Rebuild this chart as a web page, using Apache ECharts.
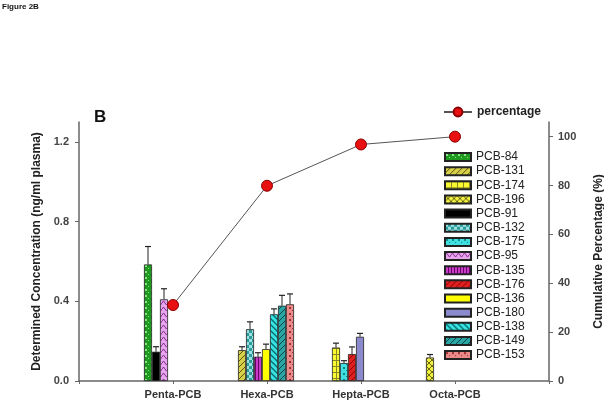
<!DOCTYPE html>
<html><head><meta charset="utf-8">
<script src="https://cdn.jsdelivr.net/npm/echarts@6/dist/echarts.min.js"></script>
<style>html,body{margin:0;padding:0;background:#fff}#c{width:604px;height:407px}</style>
</head><body><div id="c"></div>
<script>
const categories = ['Penta-PCB', 'Hexa-PCB', 'Hepta-PCB', 'Octa-PCB'];
const pcbNames = ['PCB-84','PCB-131','PCB-174','PCB-196','PCB-91','PCB-132','PCB-175','PCB-95','PCB-135','PCB-176','PCB-136','PCB-180','PCB-138','PCB-149','PCB-153'];
const pcbGroup = [0, 1, 2, 3, 0, 1, 2, 0, 1, 2, 1, 2, 1, 1, 1];
const pcbMean  = [0.585, 0.155, 0.168, 0.118, 0.147, 0.26, 0.09, 0.41, 0.122, 0.135, 0.16, 0.222, 0.335, 0.378, 0.385];
const pcbError = [0.09, 0.017, 0.022, 0.015, 0.025, 0.037, 0.012, 0.053, 0.02, 0.036, 0.025, 0.017, 0.027, 0.052, 0.052];
const cumulativePct = [31.1, 79.9, 96.8, 100];
const leftTicks = [0, 0.4, 0.8, 1.2];
const rightTicks = [0, 20, 40, 60, 80, 100];

const FONT = 'Arial, "Liberation Sans", sans-serif';

function pat(bg, fg, kind) {
  const s = 6;
  const c = document.createElement('canvas'); c.width = s; c.height = s;
  const g = c.getContext('2d');
  g.fillStyle = bg; g.fillRect(0, 0, s, s);
  g.strokeStyle = fg; g.fillStyle = fg; g.lineWidth = 1;
  if (kind === 'dots') { g.fillRect(1, 1, 2, 2); g.fillRect(4, 4, 1, 1); }
  else if (kind === 'diag') { g.beginPath(); g.moveTo(0, s); g.lineTo(s, 0); g.moveTo(-1, 1); g.lineTo(1, -1); g.moveTo(s - 1, s + 1); g.lineTo(s + 1, s - 1); g.stroke(); }
  else if (kind === 'diag2') { g.lineWidth = 1.3; g.beginPath(); g.moveTo(0, 0); g.lineTo(s, s); g.moveTo(-3, 3); g.lineTo(3, 9); g.moveTo(3, -3); g.lineTo(9, 3); g.stroke(); }
  else if (kind === 'grid') { g.fillRect(0, 0, s, 1); g.fillRect(0, 0, 1, s); }
  else if (kind === 'cross') { g.beginPath(); g.moveTo(0, 0); g.lineTo(s, s); g.moveTo(s, 0); g.lineTo(0, s); g.stroke(); }
  else if (kind === 'checker') { g.fillRect(0, 0, 3, 3); g.fillRect(3, 3, 3, 3); }
  else if (kind === 'vert') { g.fillRect(0, 0, 1, s); g.fillRect(3, 0, 1, s); }
  else if (kind === 'wave') { g.beginPath(); g.moveTo(0, 3); g.lineTo(1.5, 1); g.lineTo(3, 3); g.lineTo(4.5, 5); g.lineTo(6, 3); g.stroke(); }
  else if (kind === 'hline') { g.fillRect(0, 2, s, 2); }
  return { image: c, repeat: 'repeat' };
}

const fills = {
  'PCB-84':  pat('#1e9a1e', '#8fe08f', 'dots'),
  'PCB-131': pat('#d8d048', '#5a5410', 'diag'),
  'PCB-174': pat('#fafa30', '#8a8a20', 'grid'),
  'PCB-196': pat('#f2f040', '#6a6a10', 'cross'),
  'PCB-91':  '#000000',
  'PCB-132': pat('#2a9c9c', '#9ee0e0', 'checker'),
  'PCB-175': pat('#40e0e0', '#108888', 'dots'),
  'PCB-95':  pat('#e6a6ec', '#8a2a90', 'wave'),
  'PCB-135': pat('#c83cc8', '#6a006a', 'vert'),
  'PCB-176': pat('#e02020', '#8a0000', 'diag'),
  'PCB-136': '#ffff00',
  'PCB-180': '#8a8acc',
  'PCB-138': pat('#38e4e4', '#006a6a', 'diag2'),
  'PCB-149': pat('#2aa6a6', '#0a4444', 'diag'),
  'PCB-153': pat('#ea8a8a', '#a03030', 'dots')
};

// slot position of each compound inside its homologue group
const slotCount = [0, 0, 0, 0];
const pcbSlot = pcbGroup.map(g => slotCount[g]++);
const SLOT = 8 / 94, START = -25 / 94;
const barX = pcbGroup.map((g, i) => g + 1 + START + SLOT * pcbSlot[i]);

const barSeries = pcbNames.map((n, i) => ({
  name: n, type: 'bar', xAxisIndex: 0, yAxisIndex: 0,
  barWidth: 8, barGap: '-100%',
  itemStyle: { color: fills[n], borderColor: '#222', borderWidth: 0.8 },
  data: [[barX[i], pcbMean[i]]], z: 2
}));

const errSeries = {
  type: 'custom', name: 'err', xAxisIndex: 0, yAxisIndex: 0, z: 3, silent: true,
  data: pcbNames.map((n, i) => [barX[i], pcbMean[i], pcbMean[i] + pcbError[i]]),
  renderItem: function (params, api) {
    const b = api.coord([api.value(0), api.value(1)]);
    const t = api.coord([api.value(0), api.value(2)]);
    return { type: 'group', children: [
      { type: 'line', shape: { x1: b[0], y1: b[1], x2: t[0], y2: t[1] }, style: { stroke: '#222', lineWidth: 1 } },
      { type: 'line', shape: { x1: t[0] - 3, y1: t[1], x2: t[0] + 3, y2: t[1] }, style: { stroke: '#222', lineWidth: 1.2 } }
    ]};
  }
};

const lineSeries = {
  name: 'percentage', type: 'line', xAxisIndex: 0, yAxisIndex: 1, z: 5,
  data: cumulativePct.map((v, i) => [i + 1, v]),
  symbol: 'circle', symbolSize: 11,
  lineStyle: { color: '#555', width: 1 },
  itemStyle: { color: '#e81010', borderColor: '#8a0000', borderWidth: 1 }
};

const axisLineStyle = { color: '#666', width: 1.5 };
const chart = echarts.init(document.getElementById('c'), null, { renderer: 'canvas' });
chart.setOption({
  animation: false,
  backgroundColor: '#fff',
  textStyle: { fontFamily: FONT },
  grid: { left: 79, right: 55, top: 122, bottom: 26, containLabel: false, outerBoundsMode: 'none' },
  graphic: [
    { type: 'text', left: 2, top: 3, style: { text: 'Figure 2B', font: 'bold 8px ' + FONT, fill: '#111' } },
    { type: 'text', left: 94, top: 109, style: { text: 'B', font: 'bold 17px ' + FONT, fill: '#111' } }
  ],
  legend: [
    { data: ['percentage'], orient: 'vertical', left: 443, top: 106, itemWidth: 28, itemHeight: 11, padding: 0,
      selectedMode: false, textStyle: { fontSize: 12, fontFamily: FONT, color: '#222', fontWeight: 'bold' } },
    { data: pcbNames, orient: 'vertical', left: 444, top: 151, itemWidth: 26, itemHeight: 8, itemGap: 2.15, padding: 0,
      icon: 'rect', selectedMode: false, textStyle: { fontSize: 12, fontFamily: FONT, color: '#222' } }
  ],
  xAxis: [{
    type: 'value', min: 0, max: 5, interval: 1,
    axisLine: { show: true, lineStyle: axisLineStyle },
    axisTick: { show: true, length: 3, lineStyle: { color: '#666' } },
    splitLine: { show: false },
    axisLabel: { formatter: v => categories[v - 1] || '', fontSize: 11, fontWeight: 'bold', color: '#333', margin: 8, fontFamily: FONT }
  }],
  yAxis: [{
    type: 'value', min: 0, max: 1.3, interval: 0.4, position: 'left',
    axisLine: { show: true, lineStyle: axisLineStyle },
    axisTick: { show: true, length: 4, lineStyle: { color: '#666' }, customValues: leftTicks },
    splitLine: { show: false },
    axisLabel: { formatter: v => v.toFixed(1), fontSize: 11, fontWeight: 'bold', color: '#444', margin: 10, fontFamily: FONT, customValues: leftTicks },
    name: 'Determined Concentration (ng/ml plasma)', nameLocation: 'middle', nameGap: 31,
    nameTextStyle: { fontSize: 12, fontWeight: 'bold', color: '#222', fontFamily: FONT }
  }, {
    type: 'value', min: 0, max: 106, interval: 20, position: 'right',
    axisLine: { show: true, lineStyle: axisLineStyle },
    axisTick: { show: true, length: 4, lineStyle: { color: '#666' }, customValues: rightTicks },
    splitLine: { show: false },
    axisLabel: { fontSize: 11, fontWeight: 'bold', color: '#444', margin: 9, fontFamily: FONT, customValues: rightTicks },
    name: 'Cumulative Percentage (%)', nameLocation: 'middle', nameGap: 44,
    nameTextStyle: { fontSize: 12, fontWeight: 'bold', color: '#222', fontFamily: FONT }
  }],
  series: barSeries.concat([errSeries, lineSeries])
});
</script></body></html>
